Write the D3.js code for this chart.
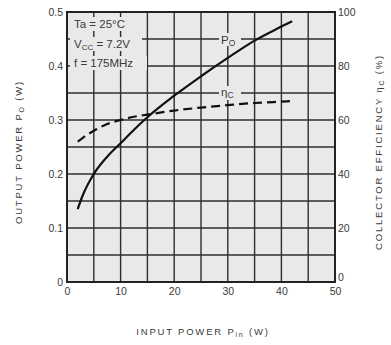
<!DOCTYPE html>
<html>
<head>
<meta charset="utf-8">
<script src="https://cdn.jsdelivr.net/npm/d3@7"></script>
<style>
  body { margin: 0; background: #fff; }
  text { font-family: "Liberation Sans", Arial, sans-serif; fill: #3a3a3a; }
</style>
</head>
<body>
<svg width="391" height="345"></svg>
<script>
(function () {

  // input power Pin (W)
  var pinValues = [2, 3, 5, 7.5, 10, 12.5, 15, 20, 25, 30, 35, 40, 42]
  // output power Po (W)
  var poValues = [0.135, 0.162, 0.2, 0.232, 0.257, 0.282, 0.305, 0.345, 0.381, 0.415, 0.447, 0.473, 0.483]
  // collector efficiency (%)
  var etaValues = [52, 53.5, 56, 58.5, 60, 61.2, 62, 63.5, 64.6, 65.5, 66.3, 66.8, 67]

  var xTicks = [0, 10, 20, 30, 40, 50]
  var yLeftTicks = [0, 0.1, 0.2, 0.3, 0.4, 0.5]
  var yRightTicks = [0, 20, 40, 60, 80, 100]

  var left = 67, right = 335, top = 12, bottom = 282

  var svg = d3.select('svg')

  var x = d3.scaleLinear().domain([0, 50]).range([left, right])
  var yPo = d3.scaleLinear().domain([0, 0.5]).range([bottom, top])
  var yEta = d3.scaleLinear().domain([0, 100]).range([bottom, top])

  // plot background
  svg.append('rect')
    .attr('x', left).attr('y', top)
    .attr('width', right - left).attr('height', bottom - top)
    .attr('fill', '#e9e9e9')

  // grid every 5 W and every 0.05 W
  var g = svg.append('g').attr('stroke', '#2e2e2e').attr('stroke-width', 1.4)
  g.selectAll('.vg')
    .data(d3.range(5, 50, 5))
    .enter().append('line')
    .attr('x1', d => x(d)).attr('x2', d => x(d))
    .attr('y1', top).attr('y2', bottom)
  g.selectAll('.hg')
    .data(d3.range(0.05, 0.5, 0.05))
    .enter().append('line')
    .attr('x1', left).attr('x2', right)
    .attr('y1', d => yPo(d)).attr('y2', d => yPo(d))

  // frame
  svg.append('rect')
    .attr('x', left).attr('y', top)
    .attr('width', right - left).attr('height', bottom - top)
    .attr('fill', 'none').attr('stroke', '#222').attr('stroke-width', 2)

  // axes
  var xAxis = svg.append('g')
    .attr('transform', 'translate(0,' + bottom + ')')
    .call(d3.axisBottom(x).tickValues(xTicks).tickSize(0).tickPadding(6))
  var yAxisL = svg.append('g')
    .attr('transform', 'translate(' + left + ',0)')
    .call(d3.axisLeft(yPo).tickValues(yLeftTicks).tickSize(0).tickPadding(4)
      .tickFormat(d => d === 0 ? '0' : d3.format('.1f')(d)))
  var yAxisR = svg.append('g')
    .attr('transform', 'translate(' + right + ',0)')
    .call(d3.axisRight(yEta).tickValues(yRightTicks).tickSize(0).tickPadding(3))
  ;[xAxis, yAxisL, yAxisR].forEach(function (a) {
    a.select('.domain').remove()
    a.selectAll('text').attr('font-size', 10.5).attr('font-family', '"Liberation Sans", Arial, sans-serif')
  })
  // the right-hand 0 sits a little above the corner
  yAxisR.selectAll('.tick').filter(d => d === 0).select('text').attr('y', -5)

  // curves
  var poLine = d3.line()
    .x((d, i) => x(pinValues[i]))
    .y(d => yPo(d))
    .curve(d3.curveMonotoneX)
  var etaLine = d3.line()
    .x((d, i) => x(pinValues[i]))
    .y(d => yEta(d))
    .curve(d3.curveMonotoneX)

  svg.append('path').datum(poValues)
    .attr('d', poLine)
    .attr('fill', 'none').attr('stroke', '#111').attr('stroke-width', 2.2)
  svg.append('path').datum(etaValues)
    .attr('d', etaLine)
    .attr('fill', 'none').attr('stroke', '#111').attr('stroke-width', 2.2)
    .attr('stroke-dasharray', '9,5')

  // label with a light box hiding the grid
  function boxed(tx, ty, w, h) {
    svg.append('rect')
      .attr('x', tx).attr('y', ty).attr('width', w).attr('height', h)
      .attr('fill', '#e9e9e9')
  }

  boxed(70, 17, 62, 14)
  boxed(70, 37, 72, 14)
  boxed(70, 56, 77, 14)
  var cond = svg.append('text').attr('font-size', 11.5)
  cond.append('tspan').attr('x', 74).attr('y', 28).text('Ta = 25°C')
  var vcc = svg.append('text').attr('font-size', 11.5).attr('x', 74).attr('y', 48)
  vcc.append('tspan').text('V')
  vcc.append('tspan').attr('font-size', 8).attr('dy', 2).text('CC')
  vcc.append('tspan').attr('dy', -2).text(' = 7.2V')
  svg.append('text').attr('font-size', 11.5).attr('x', 74).attr('y', 67).text('f = 175MHz')

  // curve labels
  boxed(219, 33, 22, 13)
  var poLab = svg.append('text').attr('font-size', 11.5).attr('x', 221).attr('y', 44)
  poLab.append('tspan').text('P')
  poLab.append('tspan').attr('font-size', 8.5).attr('dy', 2).text('O')
  boxed(219, 86, 22, 14)
  var etaLab = svg.append('text').attr('font-size', 11.5).attr('x', 221).attr('y', 96)
  etaLab.append('tspan').text('η')
  etaLab.append('tspan').attr('font-size', 8.5).attr('dy', 2).text('C')

  // axis titles
  var lt = svg.append('text')
    .attr('transform', 'translate(22,152) rotate(-90)')
    .attr('text-anchor', 'middle').attr('font-size', 9.5).attr('letter-spacing', 1.8)
  lt.append('tspan').text('OUTPUT POWER P')
  lt.append('tspan').attr('font-size', 7).attr('dy', 2).text('O')
  lt.append('tspan').attr('dy', -2).text(' (W)')

  var rt = svg.append('text')
    .attr('transform', 'translate(382,152) rotate(-90)')
    .attr('text-anchor', 'middle').attr('font-size', 9.5).attr('letter-spacing', 1.8)
  rt.append('tspan').text('COLLECTOR EFFICIENCY η')
  rt.append('tspan').attr('font-size', 7).attr('dy', 2).text('C')
  rt.append('tspan').attr('dy', -2).text(' (%)')

  var bt = svg.append('text')
    .attr('x', 203).attr('y', 335)
    .attr('text-anchor', 'middle').attr('font-size', 9.5).attr('letter-spacing', 1.8)
  bt.append('tspan').text('INPUT POWER P')
  bt.append('tspan').attr('font-size', 7).attr('dy', 2).text('in')
  bt.append('tspan').attr('dy', -2).text(' (W)')

})()
</script>
</body>
</html>
